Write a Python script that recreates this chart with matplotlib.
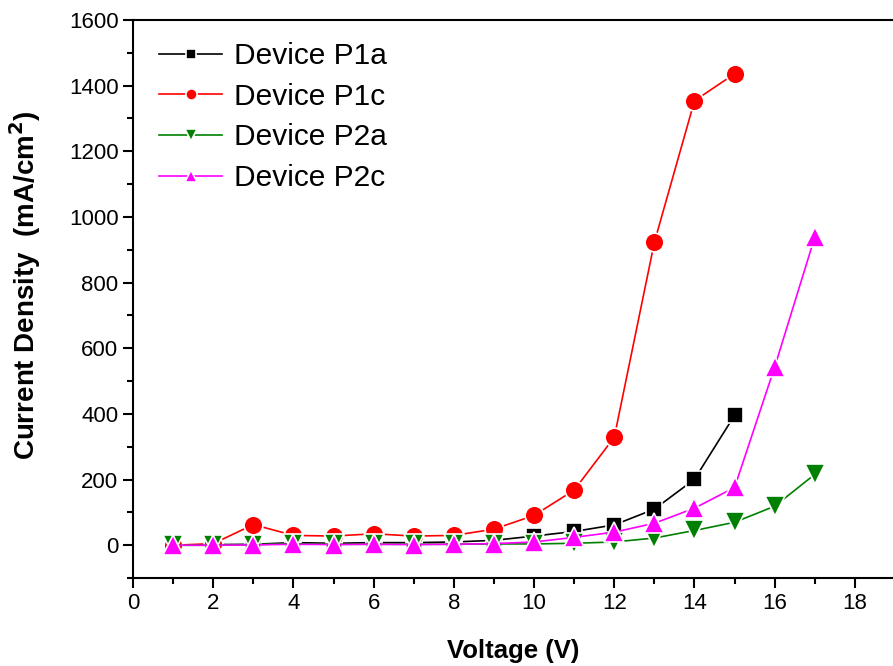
import matplotlib.pyplot as plt
from matplotlib.ticker import MultipleLocator

plt.rcParams["font.family"] = ["Liberation Sans", "DejaVu Sans"]

# voltage (V)
v_p1 = [1, 2, 3, 4, 5, 6, 7, 8, 9, 10, 11, 12, 13, 14, 15]
v_p2 = [1, 2, 3, 4, 5, 6, 7, 8, 9, 10, 11, 12, 13, 14, 15, 16, 17]

# current density (mA/cm^2)
p1a = [0, 2, 3, 8, 6, 8, 8, 10, 15, 28, 42, 62, 110, 201, 396]
p1c = [0, 5, 63, 30, 28, 35, 28, 30, 49, 91, 168, 329, 923, 1354, 1436]
p2a = [0, 0, 2, 5, 3, 3, 3, 3, 4, 4, 6, 10, 22, 45, 70, 119, 216]
p2c = [0, 0, 1, 3, 2, 3, 2, 3, 5, 10, 24, 40, 67, 113, 176, 543, 939]

fig = plt.figure(figsize=(8.93, 6.66), dpi=100)
ax = fig.add_axes([0.149, 0.132, 0.851, 0.838])

style = dict(lw=1.2, markeredgecolor="white", markeredgewidth=1.2)
ax.plot(v_p1, p1a, color="black", marker="s", markersize=12, label="Device P1a",
        **style)
ax.plot(v_p1, p1c, color="red", marker="o", markersize=13.5, label="Device P1c",
        **style)
ax.plot(v_p2, p2a, color="green", marker="v", markersize=14, label="Device P2a",
        **style)
ax.plot(v_p2, p2c, color="magenta", marker="^", markersize=14, label="Device P2c",
        **style)

ax.set_xlim(0, 18.95)
ax.set_ylim(-100, 1600)
ax.xaxis.set_major_locator(MultipleLocator(2))
ax.xaxis.set_minor_locator(MultipleLocator(1))
ax.yaxis.set_major_locator(MultipleLocator(200))
ax.yaxis.set_minor_locator(MultipleLocator(100))
ax.tick_params(which="major", direction="out", length=7, width=1.5,
               labelsize=16, top=False, right=False)
ax.tick_params(which="minor", direction="out", length=4, width=1.5,
               top=False, right=False)

for side in ["left", "bottom", "top"]:
    ax.spines[side].set_linewidth(1.5)
ax.spines["right"].set_visible(False)

ax.set_xlabel("Voltage (V)", fontsize=18.5, fontweight="bold", labelpad=18)
ax.set_ylabel("Current Density  (mA/cm$^\\mathbf{2}$)", fontsize=20,
              fontweight="bold")
ax.yaxis.set_label_coords(-0.118, 0.525)

ax.legend(loc="upper left", bbox_to_anchor=(0.005, 1.0), frameon=False,
          fontsize=21.5, markerscale=0.6, handlelength=2.1,
          handletextpad=0.4, labelspacing=0.42, borderaxespad=0.35)

fig.savefig("out.png", dpi=100)
